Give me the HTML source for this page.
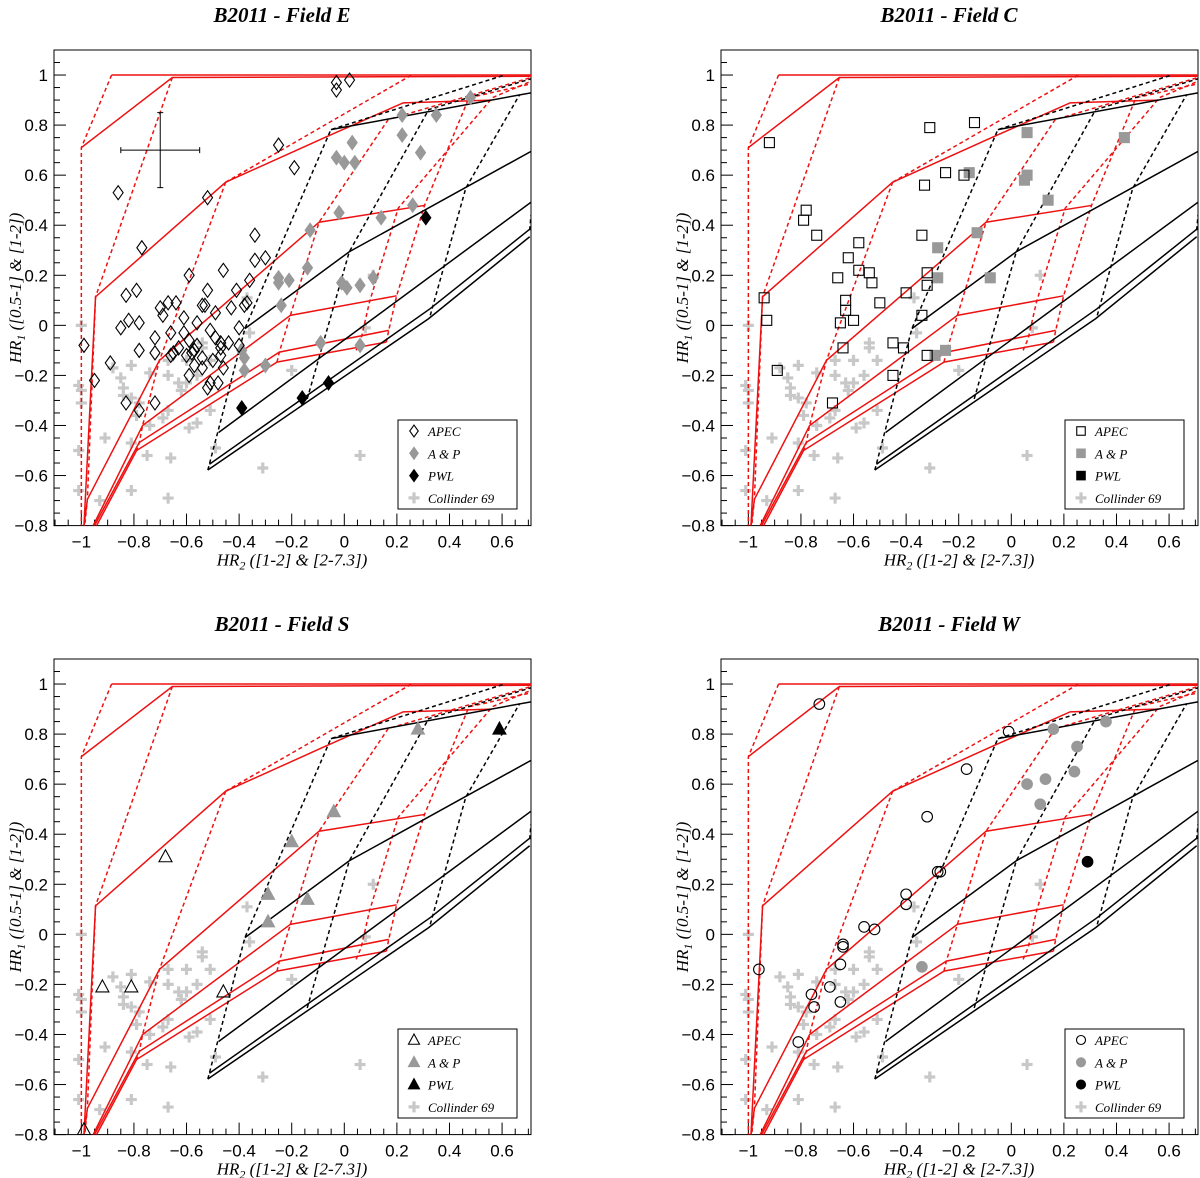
<!DOCTYPE html>
<html><head><meta charset="utf-8"><style>
html,body{margin:0;padding:0;background:#fff;}
svg{display:block;}
</style></head><body>
<svg id="chart" width="1200" height="1178" viewBox="0 0 1200 1178" xmlns="http://www.w3.org/2000/svg"></svg>
<script>
// ---------- data ----------
const xTicks = [-1,-0.8,-0.6,-0.4,-0.2,0,0.2,0.4,0.6];
const xTickLabels = ["\u22121","\u22120.8","\u22120.6","\u22120.4","\u22120.2","0","0.2","0.4","0.6"];
const yTicks = [-0.8,-0.6,-0.4,-0.2,0,0.2,0.4,0.6,0.8,1];
const yTickLabels = ["\u22120.8","\u22120.6","\u22120.4","\u22120.2","0","0.2","0.4","0.6","0.8","1"];
const panelTitles = ["B2011 - Field E","B2011 - Field C","B2011 - Field S","B2011 - Field W"];
const legendLabels = ["APEC","A & P","PWL","Collinder 69"];

const redSolid = [
 [[-0.885,1.0],[0.71,1.0]],
 [[-1.0,0.71],[-0.654,0.99],[0.71,0.995]],
 [[-0.99,-0.8],[-0.946,0.114],[-0.451,0.572],[-0.064,0.755],[0.224,0.889],[0.56,0.90]],
 [[-0.99,-0.8],[-0.977,-0.695],[-0.703,-0.14],[-0.096,0.412],[0.305,0.479]],
 [[-0.955,-0.8],[-0.767,-0.40],[-0.205,0.04],[0.199,0.118]],
 [[-0.95,-0.8],[-0.78,-0.468],[-0.247,-0.107],[0.169,-0.02]],
 [[-0.942,-0.8],[-0.79,-0.50],[-0.256,-0.147],[0.16,-0.067]]
];
const redDashed = [
 [[-0.885,1.0],[-1.0,0.71],[-1.0,-0.8]],
 [[-0.654,0.99],[-0.946,0.114],[-0.977,-0.695],[-0.987,-0.8]],
 [[-0.451,0.572],[-0.703,-0.14],[-0.767,-0.40],[-0.78,-0.47],[-0.79,-0.50]],
 [[-0.451,0.572],[0.256,1.0]],
 [[-0.256,-0.147],[-0.247,-0.107],[-0.205,0.04],[-0.096,0.412],[0.167,0.822],[0.71,0.99]],
 [[0.045,-0.10],[0.064,-0.053],[0.096,0.094],[0.205,0.468],[0.564,0.91],[0.71,0.975]],
 [[0.16,-0.067],[0.169,-0.02],[0.199,0.118],[0.305,0.479],[0.474,0.909],[0.71,0.965]]
];
const blackSolid = [
 [[-0.051,0.782],[0.71,0.929]],
 [[-0.378,-0.013],[0.019,0.294],[0.71,0.695]],
 [[-0.478,-0.428],[0.71,0.492]],
 [[-0.513,-0.555],[0.327,0.067],[0.71,0.388]],
 [[-0.519,-0.578],[0.321,0.027],[0.705,0.354]]
];
const blackDashed = [
 [[-0.519,-0.578],[-0.378,-0.013],[-0.051,0.782],[0.61,1.0]],
 [[-0.141,-0.294],[0.019,0.294],[0.321,0.862],[0.71,0.985]],
 [[0.327,0.04],[0.462,0.548],[0.667,0.922]],
 [[0.705,0.38],[0.71,0.44]]
];

const c69x = [-1.0,-1.01,-1.0,-1.0,-1.01,-1.01,-0.93,-0.91,-0.88,-0.85,-0.84,-0.84,-0.81,-0.81,-0.81,-0.75,-0.79,-0.74,-0.74,-0.67,-0.67,-0.67,-0.66,-0.67,-0.60,-0.63,-0.62,-0.60,-0.56,-0.59,-0.56,-0.54,-0.54,-0.51,-0.51,-0.49,-0.37,-0.36,-0.20,-0.31,0.11,0.08,0.06,-0.69,-0.78,-0.81];
const c69y = [0.0,-0.24,-0.26,-0.31,-0.50,-0.66,-0.70,-0.45,-0.17,-0.21,-0.25,-0.28,-0.16,-0.47,-0.66,-0.52,-0.36,-0.40,-0.19,-0.14,-0.20,-0.34,-0.53,-0.69,-0.14,-0.23,-0.26,-0.23,-0.20,-0.41,-0.39,-0.07,-0.09,-0.14,-0.34,-0.49,0.11,-0.03,-0.18,-0.57,0.20,-0.01,-0.52,-0.37,-0.31,-0.29];

const eApecX = [-0.03,-0.03,0.02,-0.25,-0.19,-0.86,-0.52,-0.77,-0.34,-0.34,-0.30,-0.46,-0.59,-0.36,-0.83,-0.79,-0.67,-0.64,-0.52,-0.41,-0.70,-0.69,-0.61,-0.54,-0.49,-0.53,-0.37,-0.38,-0.43,-0.85,-0.82,-0.78,-0.66,-0.56,-0.61,-0.51,-0.40,-0.72,-0.63,-0.59,-0.56,-0.49,-0.47,-0.47,-0.44,-0.40,-0.99,-0.78,-0.72,-0.66,-0.58,-0.54,-0.50,-0.47,-0.57,-0.54,-0.46,-0.89,-0.95,-0.59,-0.51,-0.48,-0.52,-0.83,-0.72,-0.78,-0.60,-0.57,-0.65];
const eApecY = [0.97,0.94,0.98,0.72,0.63,0.53,0.51,0.31,0.36,0.26,0.27,0.22,0.20,0.18,0.12,0.14,0.09,0.09,0.14,0.14,0.07,0.04,0.03,0.08,0.05,0.08,0.09,0.08,0.07,-0.01,0.02,0.01,-0.03,0.01,-0.03,-0.02,-0.01,-0.05,-0.09,-0.06,-0.08,-0.05,-0.09,-0.07,-0.07,-0.08,-0.08,-0.10,-0.11,-0.12,-0.11,-0.13,-0.14,-0.12,-0.16,-0.17,-0.17,-0.15,-0.22,-0.20,-0.23,-0.23,-0.25,-0.31,-0.31,-0.34,-0.12,-0.10,-0.11];
const eApX = [0.22,0.35,0.22,0.03,-0.03,0.0,0.04,0.29,-0.02,0.14,0.26,-0.13,-0.14,-0.21,-0.25,-0.25,-0.01,0.01,0.06,0.11,-0.24,-0.39,-0.38,-0.38,-0.30,-0.09,0.06,0.48];
const eApY = [0.84,0.84,0.76,0.73,0.67,0.65,0.65,0.69,0.45,0.43,0.48,0.38,0.23,0.18,0.19,0.17,0.17,0.15,0.16,0.19,0.08,-0.10,-0.13,-0.18,-0.16,-0.07,-0.08,0.91];
const ePwlX = [0.31,-0.39,-0.16,-0.06];
const ePwlY = [0.43,-0.33,-0.29,-0.23];

const cApecX = [-0.92,-0.31,-0.14,-0.78,-0.79,-0.33,-0.25,-0.18,-0.74,-0.58,-0.62,-0.34,-0.58,-0.54,-0.66,-0.94,-0.53,-0.32,-0.40,-0.50,-0.63,-0.93,-0.63,-0.60,-0.65,-0.34,-0.64,-0.45,-0.41,-0.32,-0.89,-0.45,-0.68,-0.32];
const cApecY = [0.73,0.79,0.81,0.46,0.42,0.56,0.61,0.60,0.36,0.33,0.27,0.36,0.22,0.21,0.19,0.11,0.17,0.16,0.13,0.09,0.10,0.02,0.06,0.02,0.01,0.04,-0.09,-0.07,-0.09,-0.12,-0.18,-0.20,-0.31,0.21];
const cApX = [0.06,0.43,-0.16,0.06,0.05,0.14,-0.13,-0.28,-0.08,-0.28,-0.29,-0.25];
const cApY = [0.77,0.75,0.61,0.60,0.58,0.50,0.37,0.31,0.19,0.19,-0.12,-0.10];
const cPwlX = [];
const cPwlY = [];

const sApecX = [-0.68,-0.92,-0.81,-0.46,-0.99];
const sApecY = [0.31,-0.21,-0.21,-0.23,-0.78];
const sApX = [0.28,-0.04,-0.20,-0.29,-0.14,-0.29];
const sApY = [0.82,0.49,0.37,0.16,0.14,0.05];
const sPwlX = [0.59];
const sPwlY = [0.82];

const wApecX = [-0.73,-0.01,-0.17,-0.32,-0.28,-0.27,-0.40,-0.40,-0.56,-0.52,-0.64,-0.64,-0.65,-0.96,-0.69,-0.76,-0.75,-0.65,-0.81];
const wApecY = [0.92,0.81,0.66,0.47,0.25,0.25,0.16,0.12,0.03,0.02,-0.04,-0.05,-0.12,-0.14,-0.21,-0.24,-0.29,-0.27,-0.43];
const wApX = [0.36,0.16,0.25,0.13,0.06,0.24,0.11,-0.34];
const wApY = [0.85,0.82,0.75,0.62,0.60,0.65,0.52,-0.13];
const wPwlX = [0.29];
const wPwlY = [0.29];

// ---------- drawing ----------
const NS = "http://www.w3.org/2000/svg";
const svg = document.getElementById('chart');
const XMIN=-1.104, XMAX=0.71, YMIN=-0.8, YMAX=1.1;
const FW=477, FH=475.6;
const panels = [
 {ox:54, oy:50, marker:'diamond', ax:eApecX, ay:eApecY, bx:eApX, by:eApY, px:ePwlX, py:ePwlY, name:'field-e', err:true},
 {ox:721, oy:50, marker:'square', ax:cApecX, ay:cApecY, bx:cApX, by:cApY, px:cPwlX, py:cPwlY, name:'field-c'},
 {ox:54, oy:659, marker:'triangle', ax:sApecX, ay:sApecY, bx:sApX, by:sApY, px:sPwlX, py:sPwlY, name:'field-s'},
 {ox:721, oy:659, marker:'circle', ax:wApecX, ay:wApecY, bx:wApX, by:wApY, px:wPwlX, py:wPwlY, name:'field-w'}
];
function mk(tag, attrs, parent){
  const e=document.createElementNS(NS,tag);
  for(const k in attrs) e.setAttribute(k,attrs[k]);
  parent.appendChild(e); return e;
}
function marker(g, type, cx, cy, fill, stroke, sz){
  let e;
  const s = sz||1;
  if(type==='diamond') e=mk('polygon',{points:`${cx},${cy-7*s} ${cx+5*s},${cy} ${cx},${cy+7*s} ${cx-5*s},${cy}`,fill:fill,stroke:stroke,'stroke-width':1.1},g);
  else if(type==='square') e=mk('rect',{x:cx-5*s,y:cy-5*s,width:10*s,height:10*s,fill:fill,stroke:stroke,'stroke-width':1.1},g);
  else if(type==='triangle') e=mk('polygon',{points:`${cx},${cy-7*s} ${cx+6.5*s},${cy+5*s} ${cx-6.5*s},${cy+5*s}`,fill:fill,stroke:stroke,'stroke-width':1.1},g);
  else if(type==='circle') e=mk('circle',{cx:cx,cy:cy,r:5.3*s,fill:fill,stroke:stroke,'stroke-width':1.1},g);
  else if(type==='cross') e=mk('path',{d:`M${cx-5.5},${cy}H${cx+5.5}M${cx},${cy-5.5}V${cy+5.5}`,stroke:'#c8c8c8','stroke-width':3.2,fill:'none'},g);
  return e;
}
panels.forEach((p,pi)=>{
  const sx = v => p.ox + (v-XMIN)/(XMAX-XMIN)*FW;
  const sy = v => p.oy + (YMAX-v)/(YMAX-YMIN)*FH;
  const g = mk('g',{},svg);
  
  
  const t = mk('text',{x:p.ox+228,y:p.oy-28,'text-anchor':'middle','font-family':'Liberation Serif, serif','font-style':'italic','font-weight':'bold','font-size':21},g);
  t.textContent = panelTitles[pi];
  
  
  const fr = mk('rect',{x:p.ox,y:p.oy,width:FW,height:FH,fill:'none',stroke:'#000','stroke-width':1},g);
  
  
  const tk = mk('g',{stroke:'#000','stroke-width':1},g);
  
  
  for(let i=-22;i<=14;i++){
    const v=i*0.05; if(v<XMIN||v>XMAX) continue;
    const major = Math.abs(Math.round(v*100)%20)===0;
    const x=sx(v); mk('line',{x1:x,x2:x,y1:p.oy+FH,y2:p.oy+FH-(major?12:6)},tk);
  }
  for(let i=-16;i<=22;i++){
    const v=i*0.05; if(v<YMIN-1e-9||v>YMAX) continue;
    const major = Math.abs(Math.round(v*100)%20)===0;
    const y=sy(v); mk('line',{x1:p.ox,x2:p.ox+(major?12:6),y1:y,y2:y},tk);
  }
  xTicks.forEach((v,i)=>{
    const l=mk('text',{x:sx(v),y:p.oy+FH+22,'text-anchor':'middle','font-family':'Liberation Sans, sans-serif','font-size':17},g);
    l.textContent=xTickLabels[i];
    
    
  });
  yTicks.forEach((v,i)=>{
    const l=mk('text',{x:p.ox-6,y:sy(v)+6,'text-anchor':'end','font-family':'Liberation Sans, sans-serif','font-size':17},g);
    l.textContent=yTickLabels[i];
    
    
  });
  const xt = mk('text',{x:p.ox+238,y:p.oy+FH+40,'text-anchor':'middle','font-family':'Liberation Serif, serif','font-style':'italic','font-size':17},g);
  xt.innerHTML = 'HR<tspan font-size="12" dy="4">2</tspan><tspan dy="-4"> ([1-2] &amp; [2-7.3])</tspan>';
  
  
  const yt = mk('text',{x:0,y:0,'text-anchor':'middle','font-family':'Liberation Serif, serif','font-style':'italic','font-size':17,transform:`translate(${p.ox-33},${p.oy+238}) rotate(-90)`},g);
  yt.innerHTML = 'HR<tspan font-size="12" dy="4">1</tspan><tspan dy="-4"> ([0.5-1] &amp; [1-2])</tspan>';
  
  
  const cid='clip'+pi;
  const cp=mk('clipPath',{id:cid},g); mk('rect',{x:p.ox,y:p.oy,width:FW,height:FH},cp);
  const pg=mk('g',{'clip-path':`url(#${cid})`},g);
  const line=(pts,color,dash,nm)=>{
    const e=mk('polyline',{points:pts.map(q=>sx(q[0])+','+sy(q[1])).join(' '),fill:'none',stroke:color,'stroke-width':1.5},pg);
    if(dash) e.setAttribute('stroke-dasharray','4,3');
    
    
  };
  c69x.forEach((v,i)=>{
    const m=marker(pg,'cross',sx(v),sy(c69y[i]));
    
    
  });
  redDashed.forEach(l=>line(l,'#ee1111',true,'thermal-model-dashed'));
  redSolid.forEach(l=>line(l,'#ee1111',false,'thermal-model-line'));
  blackDashed.forEach(l=>line(l,'#000',true,'powerlaw-model-dashed'));
  blackSolid.forEach(l=>line(l,'#000',false,'powerlaw-model-line'));
  if(p.err){
    const e=mk('path',{d:`M${sx(-0.85)},${sy(0.7)}H${sx(-0.55)}M${sx(-0.85)},${sy(0.7)-3}v6M${sx(-0.55)},${sy(0.7)-3}v6M${sx(-0.7)},${sy(0.85)}V${sy(0.55)}M${sx(-0.7)-3},${sy(0.85)}h6M${sx(-0.7)-3},${sy(0.55)}h6`,stroke:'#000','stroke-width':1,fill:'none'},pg);
    
    
  }
  p.bx.forEach((v,i)=>{
    const m=marker(pg,p.marker,sx(v),sy(p.by[i]),'#999','#999');
    
    
  });
  p.ax.forEach((v,i)=>{
    const m=marker(pg,p.marker,sx(v),sy(p.ay[i]),'none','#000');
    
    
  });
  p.px.forEach((v,i)=>{
    const m=marker(pg,p.marker,sx(v),sy(p.py[i]),'#000','#000');
    
    
  });
  const lg=mk('g',{},g);
  
  
  mk('rect',{x:p.ox+344,y:p.oy+370,width:119,height:89,fill:'#fff',stroke:'#000','stroke-width':1},lg);
  const fills=[['none','#000'],['#999','#999'],['#000','#000']];
  legendLabels.forEach((lab,i)=>{
    const cy=p.oy+381+i*22.3;
    if(i<3) marker(lg,p.marker,p.ox+360,cy,fills[i][0],fills[i][1],0.85);
    else marker(lg,'cross',p.ox+360,cy);
    const tt=mk('text',{x:p.ox+374,y:cy+5,'font-family':'Liberation Serif, serif','font-style':'italic','font-size':13},lg);
    tt.textContent=lab;
    
    
  });
});
</script>
</body></html>
